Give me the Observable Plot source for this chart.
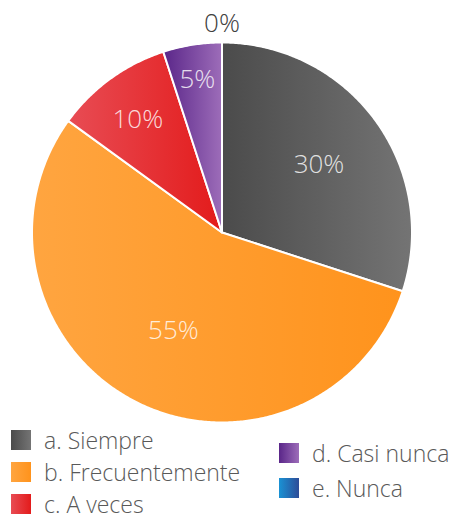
<!DOCTYPE html>
<html>
<head>
<meta charset="utf-8">
<script src="https://cdn.jsdelivr.net/npm/d3@7"></script>
<script src="https://cdn.jsdelivr.net/npm/@observablehq/plot@0.6"></script>
<style>
  body { margin: 0; background: #fff; font-family: "Open Sans", sans-serif; }
  #chart { position: relative; width: 455px; height: 518px; overflow: hidden; }
  #legend { position: absolute; left: 0; top: 425px; width: 455px; height: 93px; }
  .item { position: absolute; height: 24px; display: flex; align-items: center; font-size: 23px; line-height: 1; color: #595959; font-weight: 300; white-space: nowrap; }
  .sw { width: 20px; height: 20px; margin-right: 13px; flex: none; }
</style>
</head>
<body>
<div id="chart"></div>
<script>
const categories = ["a. Siempre", "b. Frecuentemente", "c. A veces", "d. Casi nunca", "e. Nunca"];
const values = [30, 55, 10, 5, 0];
const valueLabels = ["30%", "55%", "10%", "5%", "0%"];
const gradientStops = [
  ["#4b4b4b", "#747474"],
  ["#ffa540", "#ff931c"],
  ["#e84c54", "#e31b1b"],
  ["#5a2689", "#9d6db9"],
  ["#1a92d4", "#2d4c98"]
];

const total = d3.sum(values);
const arcs = d3.pie().sort(null).value(d => d)(values);

// Build slice outlines (unit circle, angle 0 at top, clockwise)
const slices = [];
arcs.forEach((a, i) => {
  if (a.endAngle - a.startAngle <= 0) return;
  const pts = [{i, x: 0, y: 0}];
  const n = Math.max(2, Math.ceil((a.endAngle - a.startAngle) / (Math.PI / 360)));
  for (let k = 0; k <= n; k++) {
    const t = a.startAngle + (a.endAngle - a.startAngle) * k / n;
    pts.push({i, x: Math.sin(t), y: Math.cos(t)});
  }
  pts.push({i, x: 0, y: 0});
  slices.push(pts);
});

// Label positions: smaller slices push their label further out
const labelData = arcs.map((a, i) => {
  const share = values[i] / total;
  const mid = (a.startAngle + a.endAngle) / 2;
  const r = share === 0 ? 1.1 : 0.496 - 0.112 * Math.log(share);
  return {i, label: valueLabels[i], x: Math.sin(mid) * r, y: Math.cos(mid) * r, outside: share === 0};
});

const R = 190, cx = 221.5, cy = 232, W = 455, H = 425;
const chart = Plot.plot({
  width: W,
  height: H,
  margin: 0,
  x: {domain: [-cx / R, (W - cx) / R], range: [0, W], axis: null},
  y: {domain: [(cy - H) / R, cy / R], range: [H, 0], axis: null},
  marks: [
    ...slices.map(pts => Plot.line(pts, {
      x: "x", y: "y",
      fill: `url(#grad${pts[0].i})`,
      stroke: "white",
      strokeWidth: 2,
      strokeLinejoin: "round"
    })),
    Plot.text(labelData.filter(d => !d.outside), {
      x: "x", y: "y", text: "label", dy: 3,
      fill: "white", fillOpacity: 0.82,
      fontSize: 26, fontWeight: 300, fontFamily: "Open Sans"
    }),
    Plot.text(labelData.filter(d => d.outside), {
      x: "x", y: "y", text: "label",
      fill: "#404040",
      fontSize: 26, fontWeight: 300, fontFamily: "Open Sans"
    })
  ]
});

// gradient defs
const defs = d3.select(chart).insert("defs", ":first-child");
gradientStops.forEach((s, i) => {
  const g = defs.append("linearGradient").attr("id", `grad${i}`).attr("x1", 0).attr("x2", 1).attr("y1", 0).attr("y2", 0);
  g.append("stop").attr("offset", "0%").attr("stop-color", s[0]);
  g.append("stop").attr("offset", "100%").attr("stop-color", s[1]);
});

const container = document.getElementById("chart");
container.appendChild(chart);

// Legend (two columns)
const legend = d3.select(container).append("div").attr("id", "legend");
const cols = [
  {idx: [0, 1, 2], left: 11, firstCenter: 15, step: 32},
  {idx: [3, 4], left: 279, firstCenter: 28, step: 35}
];
cols.forEach(c => {
  c.idx.forEach((i, k) => {
    const it = legend.append("div").attr("class", "item")
      .style("left", c.left + "px")
      .style("top", (c.firstCenter + k * c.step - 12) + "px");
    it.append("div").attr("class", "sw").style("background", `linear-gradient(to right, ${gradientStops[i][0]}, ${gradientStops[i][1]})`);
    it.append("span").text(categories[i]);
  });
});
</script>
</body>
</html>
